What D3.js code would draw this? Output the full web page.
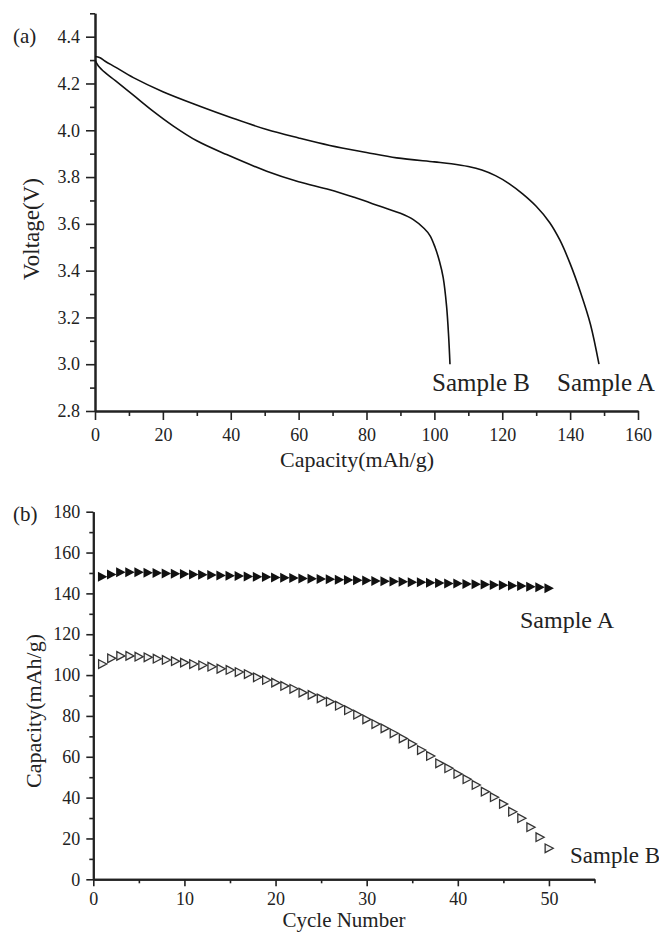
<!DOCTYPE html>
<html>
<head>
<meta charset="utf-8">
<script src="https://cdn.jsdelivr.net/npm/d3@7"></script>
<style>
  html, body { margin: 0; padding: 0; background: #fff; }
  svg text { font-family: "Liberation Serif", "Times New Roman", serif; fill: #222; }
</style>
</head>
<body>
<div id="chart"></div>
<script>
// ---- data: panel (a) discharge curves, [capacity mAh/g, voltage V]
const dischargeA = [
  [0, 4.315], [1.5, 4.31], [3, 4.295], [6, 4.27], [11.3, 4.225], [20, 4.165],
  [30.9, 4.103], [40, 4.055], [50.6, 4.003], [60, 3.967], [69.2, 3.935], [80, 3.905],
  [88.9, 3.882], [100, 3.865], [105, 3.857], [110, 3.845], [114, 3.83], [118, 3.806],
  [122, 3.772], [126, 3.728], [130, 3.675], [134, 3.605], [137, 3.53], [140, 3.43],
  [143, 3.31], [146, 3.17], [148.5, 3.0]
];
const dischargeB = [
  [0, 4.30], [1, 4.275], [3, 4.246], [6, 4.212], [11.3, 4.15], [17, 4.083],
  [23.1, 4.018], [30, 3.955], [38.8, 3.896], [50.6, 3.825], [60, 3.78], [69.2, 3.746],
  [77, 3.71], [84, 3.675], [90, 3.645], [93.8, 3.618], [97, 3.58], [98.7, 3.55],
  [100.2, 3.50], [101.5, 3.44], [102.6, 3.37], [103.6, 3.247], [104.2, 3.12], [104.6, 3.0]
];

// ---- data: panel (b) cycling, capacity per cycle 1..50
const cycles = d3.range(1, 51);
const cycleA = [
  148.2, 149.3, 150.3, 150.4, 150.3, 150.1, 150.0, 149.8, 149.6, 149.5,
  149.3, 149.1, 149.0, 148.8, 148.6, 148.5, 148.3, 148.1, 148.0, 147.8,
  147.7, 147.5, 147.3, 147.2, 147.0, 146.9, 146.7, 146.6, 146.4, 146.3,
  146.1, 146.0, 145.8, 145.7, 145.5, 145.4, 145.2, 145.1, 144.9, 144.8,
  144.6, 144.5, 144.3, 144.1, 144.0, 143.8, 143.6, 143.3, 143.0, 142.5
];
const cycleB = [
  105.4, 108.2, 109.4, 109.4, 109.0, 108.7, 108.0, 107.4, 106.8, 106.1,
  105.4, 104.8, 104.1, 103.1, 102.5, 101.5, 100.5, 98.9, 97.6, 96.3,
  94.7, 93.3, 91.4, 90.3, 88.6, 87.0, 85.0, 82.8, 80.6, 78.3,
  76.0, 73.9, 71.5, 69.0, 66.3, 63.3, 60.4, 56.8, 54.4, 51.6,
  49.0, 46.2, 42.9, 40.2, 36.9, 33.1, 29.9, 25.5, 20.6, 15.2
];

// ---- tick labels
const voltTicks = [2.8, 3.0, 3.2, 3.4, 3.6, 3.8, 4.0, 4.2, 4.4];
const voltMinor = [2.9, 3.1, 3.3, 3.5, 3.7, 3.9, 4.1, 4.3, 4.5];
const capXTicks = [0, 20, 40, 60, 80, 100, 120, 140, 160];
const capXMinor = [10, 30, 50, 70, 90, 110, 130, 150];
const capYTicks = [0, 20, 40, 60, 80, 100, 120, 140, 160, 180];
const capYMinor = [10, 30, 50, 70, 90, 110, 130, 150, 170];
const cycleTicks = [0, 10, 20, 30, 40, 50];
const cycleMinor = [5, 15, 25, 35, 45, 55];

const width = 659, height = 934;
const axisColor = "#222";

const svg = d3.select("#chart").append("svg")
  .attr("width", width)
  .attr("height", height)
  .attr("xmlns", "http://www.w3.org/2000/svg");

function styleAxis(g, fontSize) {
  g.select(".domain").attr("stroke", axisColor).attr("stroke-width", 2);
  g.selectAll(".tick line").attr("stroke", axisColor).attr("stroke-width", 1.6);
  g.selectAll(".tick text")
    .attr("fill", "#222")
    .style("font-family", '"Liberation Serif", serif')
    .style("font-size", fontSize + "px");
}

function drawAxes(x, y, opt) {
  const [y0] = y.range();
  const [x0] = x.range();

  // minor ticks first, no labels
  svg.append("g").attr("transform", `translate(0,${y0})`)
    .call(d3.axisBottom(x).tickValues(opt.xMinor).tickSize(opt.minor).tickSizeOuter(0).tickFormat(""))
    .call(g => styleAxis(g, opt.font));
  svg.append("g").attr("transform", `translate(${x0},0)`)
    .call(d3.axisLeft(y).tickValues(opt.yMinor).tickSize(opt.minor).tickSizeOuter(0).tickFormat(""))
    .call(g => styleAxis(g, opt.font));

  svg.append("g").attr("transform", `translate(0,${y0})`)
    .call(d3.axisBottom(x).tickValues(opt.xTicks).tickSize(opt.major).tickSizeOuter(0)
      .tickPadding(opt.xPad).tickFormat(opt.xFmt))
    .call(g => styleAxis(g, opt.font));
  svg.append("g").attr("transform", `translate(${x0},0)`)
    .call(d3.axisLeft(y).tickValues(opt.yTicks).tickSize(opt.major).tickSizeOuter(0)
      .tickPadding(opt.yPad).tickFormat(opt.yFmt))
    .call(g => styleAxis(g, opt.font));
}

function label(txt, x, y, size, rotate) {
  const t = svg.append("text")
    .attr("x", x).attr("y", y)
    .style("font-size", size + "px")
    .text(txt);
  if (rotate) {
    t.attr("transform", `rotate(-90,${x},${y})`).attr("text-anchor", "middle");
  }
  return t;
}

// ================= panel (a) =================
const xa = d3.scaleLinear().domain([0, 160]).range([95, 638]);
const ya = d3.scaleLinear().domain([2.8, 4.5]).range([411, 13.3]);

drawAxes(xa, ya, {
  xTicks: capXTicks, xMinor: capXMinor, yTicks: voltTicks, yMinor: voltMinor,
  major: 9, minor: 5, xPad: 8, yPad: 6, font: 18,
  xFmt: d3.format("d"), yFmt: d3.format(".1f")
});

const curveLine = d3.line()
  .x(d => xa(d[0]))
  .y(d => ya(d[1]))
  .curve(d3.curveCatmullRom.alpha(0.5));

[dischargeA, dischargeB].forEach(series => {
  svg.append("path")
    .datum(series)
    .attr("d", curveLine)
    .attr("fill", "none")
    .attr("stroke", "#111")
    .attr("stroke-width", 1.6);
});

label("(a)", 13, 43, 21);
label("Voltage(V)", 39, 229, 23, true);
label("Capacity(mAh/g)", 357, 467, 22).attr("text-anchor", "middle");
label("Sample B", 432, 391, 25);
label("Sample A", 557, 391, 25);

// ================= panel (b) =================
const xb = d3.scaleLinear().domain([0, 55]).range([93.3, 594.5]);
const yb = d3.scaleLinear().domain([0, 180]).range([879.3, 511.7]);

drawAxes(xb, yb, {
  xTicks: cycleTicks, xMinor: cycleMinor, yTicks: capYTicks, yMinor: capYMinor,
  major: 7, minor: 4, xPad: 6, yPad: 6, font: 18,
  xFmt: d3.format("d"), yFmt: d3.format("d")
});

const triFilled = "M-4.5,-5L5,0L-4.5,5Z";
const triOpen = "M-3.8,-4.3L4.3,0L-3.8,4.3Z";

svg.append("g").selectAll("path")
  .data(cycles.map((c, i) => [c, cycleB[i]]))
  .join("path")
  .attr("d", triOpen)
  .attr("transform", d => `translate(${xb(d[0])},${yb(d[1])})`)
  .attr("fill", "#f2f2f2")
  .attr("stroke", "#333")
  .attr("stroke-width", 1.3);

svg.append("g").selectAll("path")
  .data(cycles.map((c, i) => [c, cycleA[i]]))
  .join("path")
  .attr("d", triFilled)
  .attr("transform", d => `translate(${xb(d[0])},${yb(d[1])})`)
  .attr("fill", "#111");

label("(b)", 13, 521, 21);
label("Capacity(mAh/g)", 41, 711, 22, true);
label("Cycle Number", 344, 927, 21).attr("text-anchor", "middle");
label("Sample A", 520, 628, 24);
label("Sample B", 570, 863, 23);
</script>
</body>
</html>
